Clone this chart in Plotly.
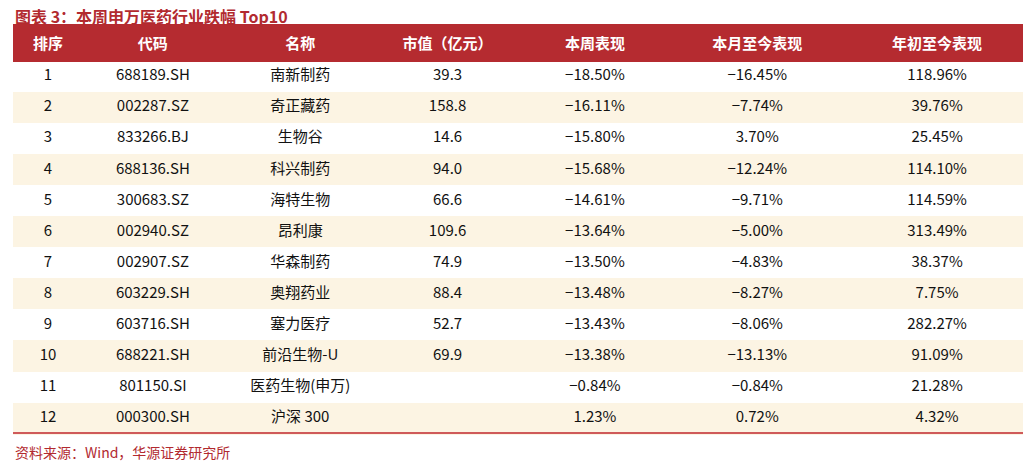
import plotly.graph_objects as go

headers = ["排序", "代码", "名称", "市值（亿元）", "本周表现", "本月至今表现", "年初至今表现"]
ranks = [str(i) for i in range(1, 13)]
codes = ["688189.SH", "002287.SZ", "833266.BJ", "688136.SH", "300683.SZ", "002940.SZ",
         "002907.SZ", "603229.SH", "603716.SH", "688221.SH", "801150.SI", "000300.SH"]
names = ["南新制药", "奇正藏药", "生物谷", "科兴制药", "海特生物", "昂利康",
         "华森制药", "奥翔药业", "塞力医疗", "前沿生物-U", "医药生物(申万)", "沪深 300"]
mcap = ["39.3", "158.8", "14.6", "94.0", "66.6", "109.6", "74.9", "88.4", "52.7", "69.9", "", ""]
week = ["−18.50%", "−16.11%", "−15.80%", "−15.68%", "−14.61%", "−13.64%", "−13.50%",
        "−13.48%", "−13.43%", "−13.38%", "−0.84%", "1.23%"]
month = ["−16.45%", "−7.74%", "3.70%", "−12.24%", "−9.71%", "−5.00%", "−4.83%",
         "−8.27%", "−8.06%", "−13.13%", "−0.84%", "0.72%"]
ytd = ["118.96%", "39.76%", "25.45%", "114.10%", "114.59%", "313.49%", "38.37%",
       "7.75%", "282.27%", "91.09%", "21.28%", "4.32%"]

W, H = 1031, 469
fills = ["#FFFFFF" if i % 2 == 0 else "#FCF4E3" for i in range(12)]
fig = go.Figure(go.Table(
    domain=dict(x=[5/W, 1025/W], y=[0, 1 - 16/H]),
    columnwidth=[70, 140, 155, 140, 155, 170, 190],
    header=dict(values=[f"<b>{h}</b>" for h in headers], fill_color="#B52B30",
                line_color="#B52B30", height=32,
                font=dict(color="white", size=15, family="Noto Sans CJK SC"), align="center"),
    cells=dict(values=[ranks, codes, names, mcap, week, month, ytd],
               fill_color=[fills]*7, line_color=[fills]*7, height=31.1,
               font=dict(color="#111111", size=15, family="Noto Sans CJK SC, Liberation Sans"),
               align="center"),
))
fig.add_shape(type="line", xref="paper", yref="paper", x0=5/W, x1=1025/W,
              y0=1 - 425/H, y1=1 - 425/H, line=dict(color="#C0272D", width=1.5))
fig.add_annotation(text="<b>图表 3：本周申万医药行业跌幅 Top10</b>", xref="paper", yref="paper",
                   x=5/W, y=1 - 8/H, xanchor="left", yanchor="middle", showarrow=False,
                   font=dict(color="#B22A2F", size=16, family="Noto Sans CJK SC"))
fig.add_annotation(text="资料来源：Wind，华源证券研究所", xref="paper", yref="paper",
                   x=5/W, y=1 - 444/H, xanchor="left", yanchor="middle", showarrow=False,
                   font=dict(color="#B22A2F", size=14, family="Noto Sans CJK SC"))
fig.update_layout(width=W, height=H, margin=dict(l=0, r=0, t=0, b=0),
                  paper_bgcolor="white", plot_bgcolor="white")
fig.write_html("out.html")
